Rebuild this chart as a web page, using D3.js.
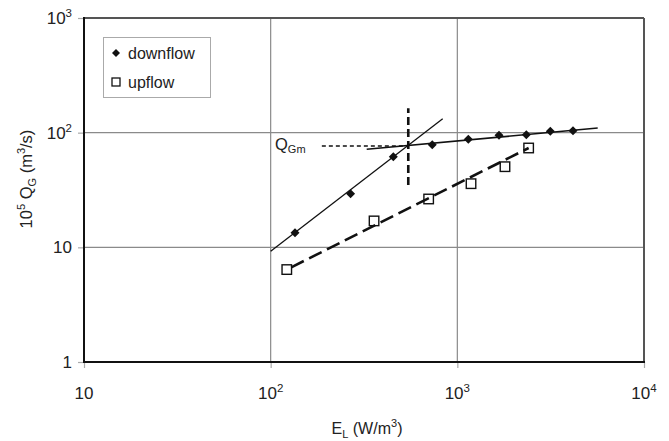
<!DOCTYPE html>
<html>
<head>
<meta charset="utf-8">
<script src="https://cdn.jsdelivr.net/npm/d3@7"></script>
<style>
  html, body { margin: 0; padding: 0; background: #fff; }
  svg { display: block; font-family: "Liberation Sans", Arial, sans-serif; }
</style>
</head>
<body>
<svg id="chart" width="669" height="441"></svg>
<script>
// Gas flow rate vs. liquid power dissipation (log-log)
const xTicks = [10, 100, 1000, 10000];
const xTickLabels = [["10", ""], ["10", "2"], ["10", "3"], ["10", "4"]];
const yTicks = [1, 10, 100, 1000];
const yTickLabels = [["1", ""], ["10", ""], ["10", "2"], ["10", "3"]];

// downflow measurements
const downE = [135, 268, 454, 734, 1145, 1672, 2342, 3148, 4166];
const downQ = [13.4, 29.3, 61.7, 78.5, 87.5, 94.8, 96.0, 102.8, 104];

// upflow measurements
const upE = [122, 358, 702, 1184, 1800, 2410];
const upQ = [6.4, 17.0, 26.4, 35.9, 50.5, 73.5];

// trend lines
const steepE = [100, 835];
const steepQ = [9.23, 132.4];
const flatE = [327, 5650];
const flatQ = [71.6, 109.8];
const upFitE = [122, 2410];
const upFitQ = [6.4, 73.5];

// transition marker (QGm)
const markE = [546, 546];
const markQ = [35, 163];
const qgmE = [188, 546];
const qgmQ = [76.5, 76.5];

const svg = d3.select("#chart");
const plotL = 84, plotR = 644, plotT = 18, plotB = 362;

const x = d3.scaleLog().domain([10, 10000]).range([plotL, plotR]);
const y = d3.scaleLog().domain([1, 1000]).range([plotB, plotT]);

// grid lines
const g = svg.append("g");
g.selectAll(".gx").data(xTicks.slice(1, -1)).enter().append("line")
  .attr("x1", d => x(d)).attr("x2", d => x(d))
  .attr("y1", plotT).attr("y2", plotB)
  .attr("stroke", "#8a8a8a").attr("stroke-width", 1.2);
g.selectAll(".gy").data(yTicks.slice(1, -1)).enter().append("line")
  .attr("x1", plotL).attr("x2", plotR)
  .attr("y1", d => y(d)).attr("y2", d => y(d))
  .attr("stroke", "#8a8a8a").attr("stroke-width", 1.2);

// axes with outside tick marks
const xAxis = d3.axisBottom(x).tickValues(xTicks).tickSize(6).tickFormat("");
const yAxis = d3.axisLeft(y).tickValues(yTicks).tickSize(6).tickFormat("");
const xa = svg.append("g").attr("transform", `translate(0,${plotB})`).call(xAxis);
const ya = svg.append("g").attr("transform", `translate(${plotL},0)`).call(yAxis);
[xa, ya].forEach(a => {
  a.select(".domain").remove();
  a.selectAll(".tick line").attr("stroke", "#aaa").attr("stroke-width", 1.2);
});

// frame
svg.append("line").attr("x1", plotL).attr("x2", plotR).attr("y1", plotT).attr("y2", plotT)
  .attr("stroke", "#555").attr("stroke-width", 2);
svg.append("line").attr("x1", plotR).attr("x2", plotR).attr("y1", plotT).attr("y2", plotB)
  .attr("stroke", "#555").attr("stroke-width", 2);
svg.append("line").attr("x1", plotL).attr("x2", plotL).attr("y1", plotT - 1).attr("y2", plotB + 1)
  .attr("stroke", "#111").attr("stroke-width", 2);
svg.append("line").attr("x1", plotL).attr("x2", plotR + 1).attr("y1", plotB).attr("y2", plotB)
  .attr("stroke", "#111").attr("stroke-width", 2);

// tick labels
function supLabel(sel, base, sup) {
  sel.append("tspan").text(base);
  if (sup) sel.append("tspan").attr("dy", -7).attr("font-size", 11.5).text(sup);
}
xTicks.forEach((t, i) => {
  const txt = svg.append("text").attr("x", x(t)).attr("y", 399)
    .attr("text-anchor", "middle").attr("font-size", 17).attr("fill", "#222");
  supLabel(txt, xTickLabels[i][0], xTickLabels[i][1]);
});
yTicks.forEach((t, i) => {
  const txt = svg.append("text").attr("x", 72).attr("y", y(t) + 6)
    .attr("text-anchor", "end").attr("font-size", 17).attr("fill", "#222");
  supLabel(txt, yTickLabels[i][0], yTickLabels[i][1]);
});

// axis titles
const xt = svg.append("text").attr("x", 367).attr("y", 434)
  .attr("text-anchor", "middle").attr("font-size", 16).attr("fill", "#222");
xt.append("tspan").text("E");
xt.append("tspan").attr("dy", 4).attr("font-size", 11).text("L");
xt.append("tspan").attr("dy", -4).text(" (W/m");
xt.append("tspan").attr("dy", -7).attr("font-size", 11).text("3");
xt.append("tspan").attr("dy", 7).text(")");

const yt = svg.append("text").attr("transform", "translate(32,179) rotate(-90)")
  .attr("text-anchor", "middle").attr("font-size", 16.5).attr("fill", "#222");
yt.append("tspan").text("10");
yt.append("tspan").attr("dy", -7).attr("font-size", 11).text("5");
yt.append("tspan").attr("dy", 7).text(" Q");
yt.append("tspan").attr("dy", 4).attr("font-size", 11).text("G");
yt.append("tspan").attr("dy", -4).text(" (m");
yt.append("tspan").attr("dy", -7).attr("font-size", 11).text("3");
yt.append("tspan").attr("dy", 7).text("/s)");

// lines
const line = d3.line().x(d => x(d[0])).y(d => y(d[1]));
const pairs = (a, b) => a.map((v, i) => [v, b[i]]);

svg.append("path").attr("d", line(pairs(steepE, steepQ)))
  .attr("fill", "none").attr("stroke", "#111").attr("stroke-width", 1.3);
svg.append("path").attr("d", line(pairs(flatE, flatQ)))
  .attr("fill", "none").attr("stroke", "#111").attr("stroke-width", 1.6);
svg.append("path").attr("d", line(pairs(qgmE, qgmQ)))
  .attr("fill", "none").attr("stroke", "#111").attr("stroke-width", 1.6)
  .attr("stroke-dasharray", "4,3");
svg.append("path").attr("d", line(pairs(markE, markQ)))
  .attr("fill", "none").attr("stroke", "#111").attr("stroke-width", 2.6)
  .attr("stroke-dasharray", "8,4");

// upflow squares
const sq = 9.5;
svg.selectAll(".up").data(pairs(upE, upQ)).enter().append("rect")
  .attr("x", d => x(d[0]) - sq / 2).attr("y", d => y(d[1]) - sq / 2)
  .attr("width", sq).attr("height", sq)
  .attr("fill", "#fff").attr("stroke", "#111").attr("stroke-width", 1.4);

svg.append("path").attr("d", line(pairs(upFitE, upFitQ)))
  .attr("fill", "none").attr("stroke", "#111").attr("stroke-width", 2.6)
  .attr("stroke-dasharray", "14,6").attr("stroke-dashoffset", -5);

// downflow diamonds
const diamond = r => `M0,${-r}L${r},0L0,${r}L${-r},0Z`;
svg.selectAll(".down").data(pairs(downE, downQ)).enter().append("path")
  .attr("d", diamond(4.5))
  .attr("transform", d => `translate(${x(d[0])},${y(d[1])})`)
  .attr("fill", "#111");

// QGm label
const ql = svg.append("text").attr("x", 275).attr("y", 150)
  .attr("font-size", 16.5).attr("fill", "#222");
ql.append("tspan").text("Q");
ql.append("tspan").attr("dy", 3).attr("font-size", 11).text("Gm");

// legend
svg.append("rect").attr("x", 103.5).attr("y", 37.5).attr("width", 107).attr("height", 60)
  .attr("fill", "#fff").attr("stroke", "#aaa").attr("stroke-width", 1);
svg.append("path").attr("d", diamond(4)).attr("transform", "translate(116,53)").attr("fill", "#111");
svg.append("text").attr("x", 128).attr("y", 58.5).attr("font-size", 16).attr("fill", "#222").text("downflow");
svg.append("rect").attr("x", 112).attr("y", 78).attr("width", 8).attr("height", 8)
  .attr("fill", "#fff").attr("stroke", "#111").attr("stroke-width", 1.3);
svg.append("text").attr("x", 128).attr("y", 87.5).attr("font-size", 16).attr("fill", "#222").text("upflow");
</script>
</body>
</html>
